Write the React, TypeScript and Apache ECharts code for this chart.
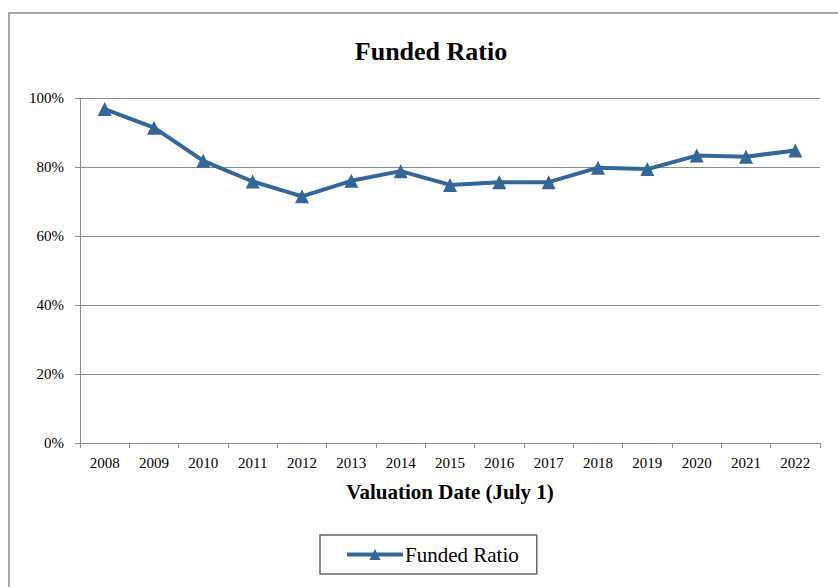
import React, { useEffect, useRef } from "react";
import * as echarts from "echarts";

const years = ["2008", "2009", "2010", "2011", "2012", "2013", "2014", "2015", "2016", "2017", "2018", "2019", "2020", "2021", "2022"];
const fundedRatio = [96.8, 91.4, 81.8, 75.8, 71.5, 76.0, 78.8, 74.8, 75.6, 75.6, 79.8, 79.4, 83.3, 83.0, 84.8];
const seriesName = "Funded Ratio";
const titleText = "Funded Ratio";
const xAxisTitle = "Valuation Date (July 1)";

const FONT = "'Liberation Serif', 'Times New Roman', serif";
const LINE_COLOR = "#336699";

export default function App() {
  const ref = useRef<HTMLDivElement>(null);
  useEffect(() => {
    if (!ref.current) return;
    const chart = echarts.init(ref.current, undefined, { renderer: "svg" });
    chart.setOption({
      animation: false,
      backgroundColor: "#ffffff",
      textStyle: { fontFamily: FONT },
      title: {
        text: titleText,
        left: 426,
        top: 33,
        textAlign: "center",
        textStyle: { fontFamily: FONT, fontSize: 26, fontWeight: "bold", color: "#000" },
      },
      graphic: [
        {
          type: "rect",
          shape: { x: 9, y: 13, width: 840, height: 600 },
          style: { fill: "none", stroke: "#8c8c8c", lineWidth: 1.5 },
          silent: true,
        },
      ],
      grid: { left: 80, right: 18, top: 98, bottom: 144 },
      xAxis: {
        type: "category",
        data: years,
        boundaryGap: true,
        name: xAxisTitle,
        nameLocation: "middle",
        nameGap: 38,
        nameTextStyle: { fontFamily: FONT, fontSize: 21, fontWeight: "bold", color: "#000" },
        axisLine: { lineStyle: { color: "#8c8c8c", width: 1 } },
        axisTick: { show: true, alignWithLabel: false, length: 5, lineStyle: { color: "#8c8c8c" } },
        axisLabel: { fontFamily: FONT, fontSize: 15, color: "#000", margin: 12 },
      },
      yAxis: {
        type: "value",
        min: 0,
        max: 100,
        interval: 20,
        axisLine: { show: true, lineStyle: { color: "#8c8c8c", width: 1 } },
        axisTick: { show: true, length: 5, lineStyle: { color: "#8c8c8c" } },
        axisLabel: { fontFamily: FONT, fontSize: 15, color: "#000", margin: 16, formatter: "{value}%" },
        splitLine: { show: true, lineStyle: { color: "#8c8c8c", width: 1 } },
      },
      legend: {
        left: 320,
        top: 535,
        orient: "horizontal",
        padding: [9, 18, 9, 25],
        borderColor: "#666",
        borderWidth: 1.5,
        itemWidth: 56,
        itemHeight: 14,
        itemGap: 5,
        lineStyle: { width: 4 },
        textStyle: { fontFamily: FONT, fontSize: 21, color: "#000", padding: [0, 0, 0, -3] },
        data: [seriesName],
      },
      series: [
        {
          name: seriesName,
          type: "line",
          data: fundedRatio,
          symbol: "triangle",
          symbolSize: 14,
          lineStyle: { color: LINE_COLOR, width: 4 },
          itemStyle: { color: LINE_COLOR },
        },
      ],
    });
    return () => chart.dispose();
  }, []);
  return <div ref={ref} style={{ position: "fixed", left: 0, top: 0, width: 838, height: 587 }} />;
}
